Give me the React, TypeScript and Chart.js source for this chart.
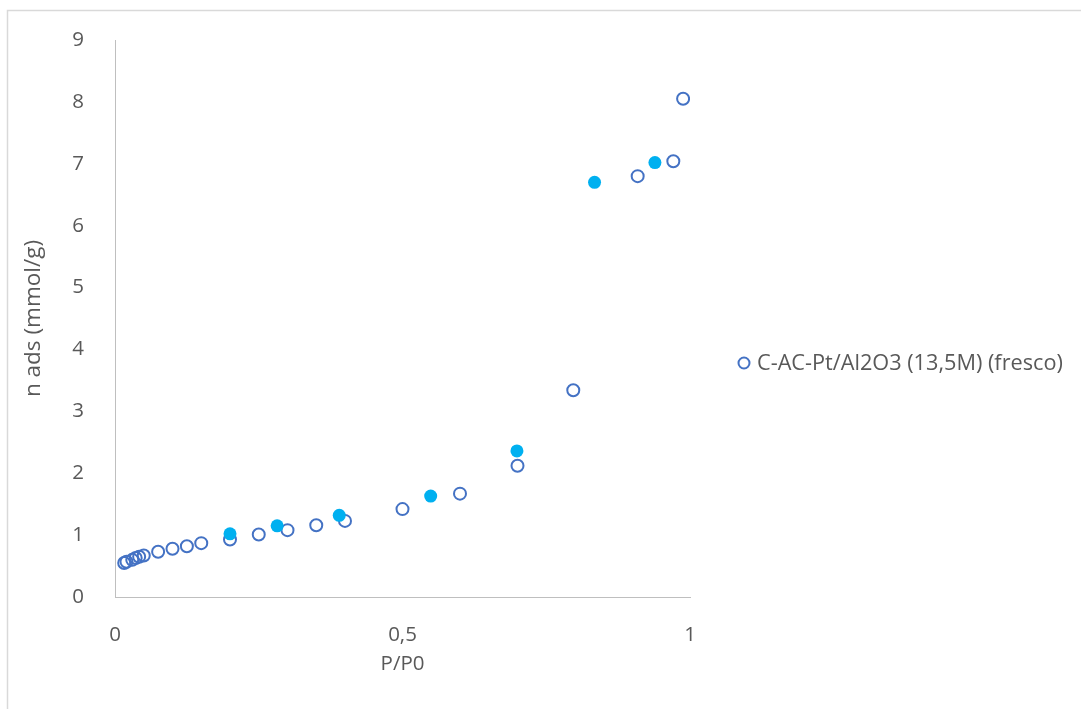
import React, { useEffect, useRef } from "react";
import { Chart, registerables } from "chart.js";

Chart.register(...registerables);

// Relative pressure P/P0 and adsorbed amount (mmol/g)
const adsP = [0.016, 0.02, 0.03, 0.036, 0.042, 0.05, 0.075, 0.1, 0.125, 0.15, 0.2, 0.25, 0.3, 0.35, 0.4, 0.5, 0.6, 0.7, 0.797, 0.909, 0.971, 0.988];
const adsN = [0.55, 0.57, 0.6, 0.63, 0.65, 0.67, 0.73, 0.78, 0.82, 0.87, 0.93, 1.01, 1.08, 1.16, 1.23, 1.42, 1.67, 2.12, 3.34, 6.8, 7.04, 8.05];
const desP = [0.2, 0.282, 0.39, 0.549, 0.699, 0.834, 0.939];
const desN = [1.02, 1.15, 1.32, 1.63, 2.36, 6.7, 7.02];

const seriesLabel = "C-AC-Pt/Al2O3 (13,5M) (fresco)";
const xTitle = "P/P0";
const yTitle = "n ads (mmol/g)";

const FONT = "'Open Sans', sans-serif";
const FS = 20.5;
const TEXT = "#595959";
const AXIS = "#bfbfbf";
const BLUE = "#4472C4";
const CYAN = "#00B0F0";

const framePlugin = {
  id: "frame",
  beforeDraw(chart: any) {
    const ctx = chart.ctx;
    ctx.save();
    ctx.fillStyle = "#ffffff";
    ctx.fillRect(0, 0, chart.width, chart.height);
    ctx.strokeStyle = "#d9d9d9";
    ctx.lineWidth = 1.5;
    ctx.beginPath();
    ctx.moveTo(7.5, chart.height);
    ctx.lineTo(7.5, 10.5);
    ctx.lineTo(chart.width, 10.5);
    ctx.stroke();
    ctx.restore();
  },
};

const legendPlugin = {
  id: "sideLegend",
  afterDraw(chart: any) {
    const ctx = chart.ctx;
    const ds = chart.data.datasets[0];
    const cy = 363;
    ctx.save();
    ctx.beginPath();
    ctx.arc(744, cy, 5.5, 0, Math.PI * 2);
    ctx.fillStyle = "#ffffff";
    ctx.fill();
    ctx.lineWidth = 2;
    ctx.strokeStyle = BLUE;
    ctx.stroke();
    ctx.fillStyle = TEXT;
    ctx.font = `21.7px ${FONT}`;
    ctx.textBaseline = "middle";
    ctx.textAlign = "left";
    ctx.fillText(ds.label, 757, cy + 1);
    ctx.restore();
  },
};

export default function App() {
  const ref = useRef<HTMLCanvasElement | null>(null);

  useEffect(() => {
    if (!ref.current) return;
    const chart = new Chart(ref.current, {
      type: "scatter",
      data: {
        datasets: [
          {
            label: seriesLabel,
            data: adsP.map((p, i) => ({ x: p, y: adsN[i] })),
            pointRadius: 6,
            pointBorderWidth: 2,
            pointBackgroundColor: "rgba(255,255,255,0)",
            pointBorderColor: BLUE,
            order: 1,
          },
          {
            label: "desorción",
            data: desP.map((p, i) => ({ x: p, y: desN[i] })),
            pointRadius: 6.5,
            pointBorderWidth: 0,
            pointBackgroundColor: CYAN,
            pointBorderColor: CYAN,
            order: 0,
          },
        ],
      },
      options: {
        responsive: false,
        animation: false,
        layout: { padding: { left: 0, top: 40, right: 391, bottom: 0 } },
        plugins: {
          legend: { display: false },
          tooltip: { enabled: false },
        },
        scales: {
          x: {
            type: "linear",
            min: 0,
            max: 1,
            grid: { display: false },
            border: { display: true, color: AXIS, width: 1 },
            ticks: {
              stepSize: 0.5,
              color: TEXT,
              font: { family: FONT, size: FS },
              padding: 18,
              callback: (v: any) => String(v).replace(".", ","),
            },
            title: {
              display: true,
              text: xTitle,
              color: TEXT,
              font: { family: FONT, size: FS },
              padding: { top: 0, bottom: 33 },
            },
            afterFit: (s: any) => {
              s.height = 112;
            },
          },
          y: {
            type: "linear",
            min: 0,
            max: 9,
            grid: { display: false },
            border: { display: true, color: AXIS, width: 1 },
            ticks: {
              stepSize: 1,
              color: TEXT,
              font: { family: FONT, size: FS },
              padding: 23,
            },
            title: {
              display: true,
              text: yTitle,
              color: TEXT,
              font: { family: FONT, size: 22.5 },
              padding: { top: 20, bottom: 0 },
            },
            afterFit: (s: any) => {
              s.width = 115;
            },
          },
        },
      },
      plugins: [framePlugin, legendPlugin],
    });
    return () => chart.destroy();
  }, []);

  return (
    <div style={{ position: "absolute", left: 0, top: 0, width: 1081, height: 709 }}>
      <canvas ref={ref} width={1081} height={709} style={{ display: "block" }} />
    </div>
  );
}
